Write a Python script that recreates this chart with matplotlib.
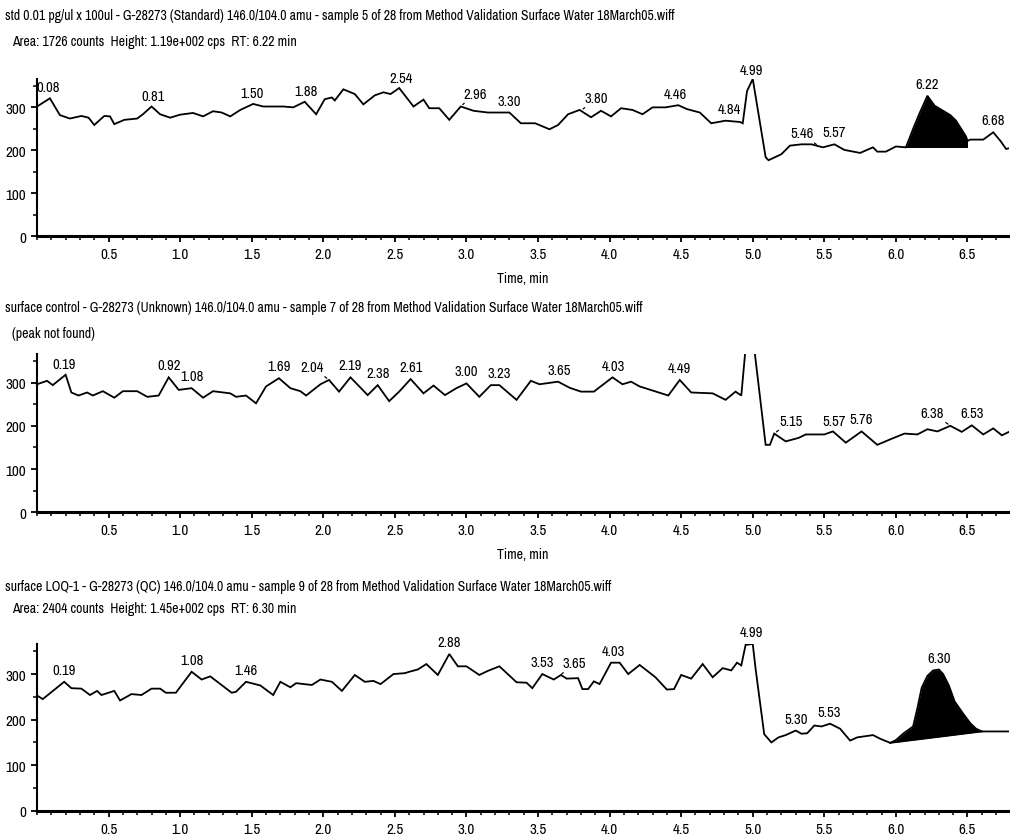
import os
import numpy as np
import matplotlib
matplotlib.use('Agg')
import matplotlib.pyplot as plt
from matplotlib import font_manager as fm
from matplotlib.font_manager import FontProperties
from matplotlib.ticker import MultipleLocator, FixedLocator

# ---------- pick a narrow / condensed face if one is installed ----------
bad = ('Bold', 'Italic', 'Light', 'Thin', 'Black', 'Medium', 'Oblique', 'Semi', 'Extra', 'Heavy')
cands = []
for f in fm.fontManager.ttflist:
    base = os.path.basename(f.fname)
    if ('Narrow' in base or 'Condensed' in base or 'Cond' in base) and not any(k in base for k in bad):
        rank = 0 if 'Narrow' in base else 1 if 'Roboto' in base else 2 if 'Noto' in base else 3 if 'DejaVu' in base else 4
        cands.append((rank, f.fname))
cands.sort()
if cands:
    FP = lambda size: FontProperties(fname=cands[0][1], size=size)
else:
    FP = lambda size: FontProperties(family='Liberation Sans', size=size)

# ---------------- data ----------------
titles1 = ["std 0.01 pg/ul x 100ul - G-28273 (Standard) 146.0/104.0 amu - sample 5 of 28 from Method Validation Surface Water 18March05.wiff",
           "Area: 1726 counts  Height: 1.19e+002 cps  RT: 6.22 min"]
titles2 = ["surface control - G-28273 (Unknown) 146.0/104.0 amu - sample 7 of 28 from Method Validation Surface Water 18March05.wiff",
           "(peak not found)"]
titles3 = ["surface LOQ-1 - G-28273 (QC) 146.0/104.0 amu - sample 9 of 28 from Method Validation Surface Water 18March05.wiff",
           "Area: 2404 counts  Height: 1.45e+002 cps  RT: 6.30 min"]

t1 = [0.00, 0.09, 0.16, 0.23, 0.31, 0.36, 0.40, 0.47, 0.51, 0.54, 0.61, 0.70, 0.74, 0.80, 0.86, 0.93,
      1.00, 1.09, 1.16, 1.23, 1.29, 1.35, 1.42, 1.51, 1.58, 1.72, 1.79, 1.87, 1.95, 2.01, 2.06, 2.08,
      2.14, 2.22, 2.28, 2.36, 2.42, 2.47, 2.53, 2.63, 2.70, 2.74, 2.81, 2.88, 2.96, 3.05, 3.15, 3.23,
      3.30, 3.38, 3.48, 3.58, 3.64, 3.71, 3.79, 3.87, 3.94, 4.01, 4.08, 4.16, 4.23, 4.30, 4.39, 4.48,
      4.54, 4.63, 4.71, 4.81, 4.91, 4.93, 4.96, 5.00, 5.09, 5.11, 5.20, 5.26, 5.34, 5.41, 5.49, 5.57,
      5.64, 5.75, 5.84, 5.87, 5.93, 6.00, 6.07, 6.12, 6.17, 6.22, 6.27, 6.33, 6.38, 6.42, 6.46, 6.49,
      6.50, 6.52, 6.61, 6.68, 6.73, 6.77, 6.79]
v1 = [302, 321, 282, 274, 280, 276, 259, 280, 279, 261, 271, 274, 284, 302, 284, 276,
      283, 287, 279, 291, 288, 279, 294, 308, 302, 302, 300, 313, 284, 319, 323, 316,
      342, 331, 307, 328, 335, 331, 345, 302, 318, 298, 298, 271, 302, 292, 288, 288,
      288, 263, 263, 249, 259, 284, 294, 277, 292, 279, 298, 294, 284, 300, 300, 305,
      296, 288, 263, 269, 266, 263, 338, 366, 184, 177, 191, 211, 214, 214, 207, 214,
      201, 194, 207, 197, 197, 209, 207, 250, 290, 327, 304, 292, 282, 269, 248, 232,
      222, 225, 225, 242, 222, 203, 205]
labels1 = [0.08, 0.81, 1.50, 1.88, 2.54, 2.96, 3.30, 3.80, 4.46, 4.84, 4.99, 5.46, 5.57, 6.22, 6.68]
peak1 = (6.07, 6.50)
base1 = (207, 207)

t2 = [0.00, 0.07, 0.11, 0.20, 0.24, 0.29, 0.35, 0.39, 0.46, 0.54, 0.60, 0.70, 0.77, 0.85, 0.92, 0.99,
      1.08, 1.16, 1.23, 1.35, 1.39, 1.46, 1.53, 1.60, 1.69, 1.77, 1.84, 1.88, 1.98, 2.04, 2.11, 2.19,
      2.31, 2.38, 2.46, 2.53, 2.61, 2.70, 2.77, 2.85, 2.93, 3.00, 3.09, 3.17, 3.23, 3.35, 3.45, 3.51,
      3.64, 3.72, 3.80, 3.89, 4.02, 4.09, 4.15, 4.21, 4.41, 4.49, 4.57, 4.72, 4.81, 4.88, 4.92, 4.95,
      5.01, 5.09, 5.12, 5.15, 5.23, 5.32, 5.37, 5.50, 5.56, 5.65, 5.76, 5.87, 5.97, 6.06, 6.15, 6.22,
      6.29, 6.38, 6.46, 6.53, 6.61, 6.68, 6.74, 6.79]
v2 = [296, 304, 294, 318, 277, 270, 277, 270, 280, 265, 280, 280, 267, 270, 312, 283,
      287, 265, 280, 275, 267, 270, 252, 291, 310, 287, 280, 270, 296, 306, 279, 312,
      271, 294, 257, 279, 308, 275, 293, 271, 287, 298, 267, 294, 294, 260, 304, 296,
      302, 288, 279, 279, 312, 296, 302, 291, 270, 306, 277, 275, 260, 279, 270, 380,
      380, 156, 156, 182, 164, 172, 180, 180, 187, 161, 187, 156, 170, 182, 180, 192,
      187, 200, 186, 201, 180, 194, 178, 186]
labels2 = [0.19, 0.92, 1.08, 1.69, 2.04, 2.19, 2.38, 2.61, 3.00, 3.23, 3.65, 4.03, 4.49,
           5.15, 5.57, 5.76, 6.38, 6.53]

t3 = [0.00, 0.04, 0.19, 0.24, 0.31, 0.37, 0.42, 0.45, 0.54, 0.58, 0.66, 0.73, 0.80, 0.86, 0.90, 0.97,
      1.08, 1.15, 1.21, 1.36, 1.39, 1.46, 1.56, 1.65, 1.70, 1.77, 1.81, 1.92, 1.98, 2.06, 2.13, 2.22,
      2.29, 2.35, 2.40, 2.49, 2.57, 2.60, 2.66, 2.72, 2.80, 2.88, 2.94, 3.00, 3.09, 3.15, 3.23, 3.35,
      3.42, 3.46, 3.53, 3.61, 3.66, 3.70, 3.78, 3.81, 3.85, 3.89, 3.93, 4.01, 4.07, 4.13, 4.21, 4.32,
      4.40, 4.45, 4.50, 4.57, 4.65, 4.72, 4.79, 4.85, 4.89, 4.92, 4.95, 5.00, 5.02, 5.08, 5.13, 5.18,
      5.23, 5.30, 5.34, 5.38, 5.43, 5.48, 5.54, 5.61, 5.68, 5.73, 5.84, 5.89, 5.96, 6.00, 6.05, 6.12,
      6.15, 6.18, 6.22, 6.26, 6.30, 6.33, 6.37, 6.41, 6.47, 6.52, 6.56, 6.60, 6.79]
v3 = [253, 245, 283, 269, 268, 254, 263, 254, 263, 242, 256, 254, 268, 268, 259, 259,
      305, 288, 295, 259, 261, 283, 275, 254, 283, 271, 280, 276, 288, 283, 263, 298,
      283, 285, 278, 300, 302, 305, 310, 322, 298, 344, 317, 317, 298, 307, 317, 282,
      281, 269, 300, 288, 298, 290, 291, 267, 267, 284, 278, 325, 325, 300, 320, 293,
      266, 267, 298, 290, 322, 293, 313, 308, 325, 319, 364, 366, 311, 168, 150, 161,
      166, 176, 169, 170, 187, 185, 191, 180, 154, 161, 166, 158, 149, 155, 169, 185,
      225, 270, 296, 308, 310, 300, 275, 240, 213, 192, 180, 174, 174]
labels3 = [0.19, 1.08, 1.46, 2.88, 3.53, 3.65, 4.03, 4.99, 5.30, 5.53, 6.30]
peak3 = (5.96, 6.60)
base3 = (149, 174)

# label shifts (pixels) for labels moved sideways with a leader line
shift1 = {2.96: 14, 3.80: 15, 5.46: -17}
shift2 = {2.04: -17, 5.15: 17, 6.38: -18}
shift3 = {3.65: 15}

# ---------------- layout ----------------
W, H = 1010, 837
fig = plt.figure(figsize=(W / 100, H / 100), dpi=100)
r = fig.canvas.get_renderer()


def fit_size(text, target_px):
    tt = fig.text(0, 0, text, fontproperties=FP(10))
    w = tt.get_window_extent(r).width
    tt.remove()
    return 10 * target_px / w


fs_title = min(fit_size(titles1[0], 666), 10.5)
fs_tick = min(fit_size("0.5", 17), 11)
fs_lab = min(fit_size("4.99", 23), 11)

XL, XR = 37, 1009
panels = [
    dict(t=t1, v=v1, labels=labels1, shift=shift1, titles=titles1, top=80, bot=237.3,
         ty=(16, 42), peak=peak1, base=base1, xlabel=True),
    dict(t=t2, v=v2, labels=labels2, shift=shift2, titles=titles2, top=355, bot=513.3,
         ty=(308, 334), peak=None, base=None, xlabel=True),
    dict(t=t3, v=v3, labels=labels3, shift=shift3, titles=titles3, top=645, bot=811.7,
         ty=(587, 609), peak=peak3, base=base3, xlabel=False),
]

xt = [0.5, 1.0, 1.5, 2.0, 2.5, 3.0, 3.5, 4.0, 4.5, 5.0, 5.5, 6.0, 6.5]
for p in panels:
    ax = fig.add_axes([XL / W, 1 - p['bot'] / H, (XR - XL) / W, (p['bot'] - p['top']) / H])
    t = np.array(p['t'])
    v = np.array(p['v'])
    ax.plot(t, v, color='black', lw=1.3, solid_joinstyle='miter')
    if p['peak'] is not None:
        a, b = p['peak']
        m = (t >= a) & (t <= b)
        tb = t[m]
        base = p['base'][0] + (p['base'][1] - p['base'][0]) * (tb - a) / (b - a)
        ax.fill_between(tb, v[m], base, color='black', lw=0)
        ax.plot([a, b], list(p['base']), color='black', lw=1.3)
    ax.set_xlim(0, 6.79)
    ax.set_ylim(0, 366)
    for s in ('top', 'right'):
        ax.spines[s].set_visible(False)
    ax.spines['left'].set_linewidth(1.5)
    ax.spines['bottom'].set_linewidth(2.2)
    ax.xaxis.set_major_locator(FixedLocator(xt))
    ax.xaxis.set_minor_locator(MultipleLocator(0.1))
    ax.yaxis.set_major_locator(FixedLocator([0, 100, 200, 300]))
    ax.yaxis.set_minor_locator(MultipleLocator(50))
    ax.tick_params(which='major', length=4, width=1.3, pad=4, colors='black')
    ax.tick_params(which='minor', length=3, width=1.1)
    ax.set_xticks(xt)
    ax.set_xticklabels([f"{x:.1f}" for x in xt], fontproperties=FP(fs_tick))
    ax.set_yticks([0, 100, 200, 300])
    ax.set_yticklabels(['0', '100', '200', '300'], fontproperties=FP(fs_tick))
    ax.patch.set_visible(False)
    if p['xlabel']:
        ax.set_xlabel('Time, min', fontproperties=FP(fs_tick * 0.92), labelpad=7)
    # peak labels
    for lt in p['labels']:
        ly = np.interp(lt, t, v)
        dx = p['shift'].get(lt, 0)
        if dx:
            ax.annotate(f"{lt:.2f}", xy=(lt, ly), xytext=(dx, 6), textcoords='offset pixels',
                        ha='center', va='bottom', fontproperties=FP(fs_lab),
                        arrowprops=dict(arrowstyle='-', lw=0.9, color='black', shrinkA=0, shrinkB=2))
        else:
            ax.annotate(f"{lt:.2f}", xy=(lt, ly), xytext=(0, 5), textcoords='offset pixels',
                        ha='center', va='bottom', fontproperties=FP(fs_lab), annotation_clip=False)
    # header lines
    fig.text(5 / W, 1 - p['ty'][0] / H, p['titles'][0], fontproperties=FP(fs_title), va='center', ha='left')
    fig.text(12 / W, 1 - p['ty'][1] / H, p['titles'][1], fontproperties=FP(fs_title), va='center', ha='left')

fig.savefig('out.png', dpi=100)
